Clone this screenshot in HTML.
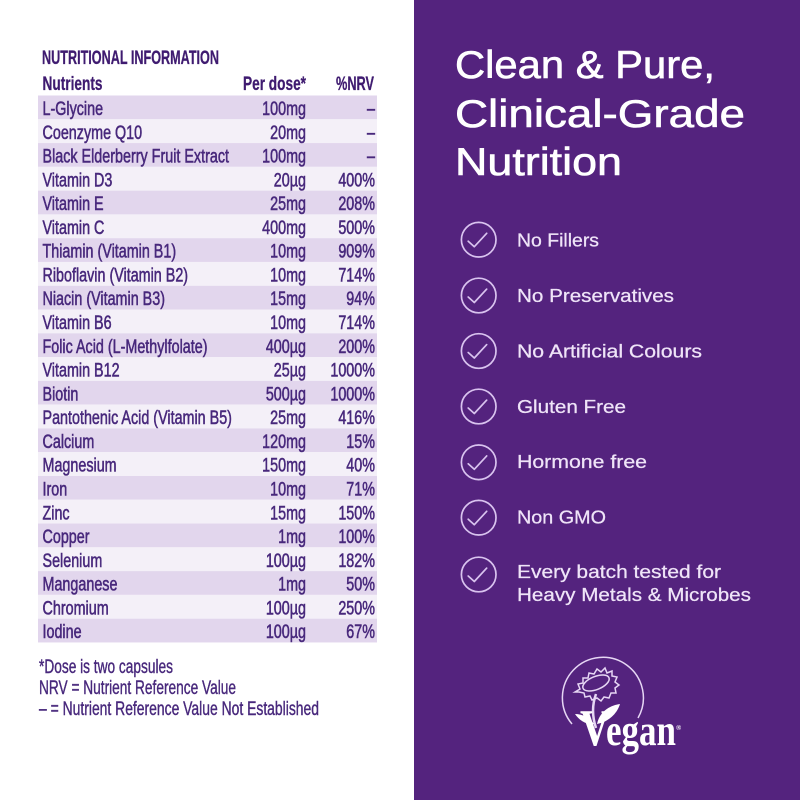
<!DOCTYPE html>
<html><head><meta charset="utf-8"><style>
html,body{margin:0;padding:0;background:#fff;}
svg{display:block;}
</style></head><body>
<svg width="800" height="800" viewBox="0 0 800 800" xmlns="http://www.w3.org/2000/svg">
<rect x="0" y="0" width="800" height="800" fill="#ffffff"/>
<rect x="414" y="0" width="386" height="800" fill="#54237e"/>

<!-- table stripes -->
<g>
<rect x="38" y="95.5" width="339" height="23.78" fill="#e2d6ed"/>
<rect x="38" y="119.28" width="339" height="23.78" fill="#f4f0f8"/>
<rect x="38" y="143.06" width="339" height="23.78" fill="#e2d6ed"/>
<rect x="38" y="166.84" width="339" height="23.78" fill="#f4f0f8"/>
<rect x="38" y="190.62" width="339" height="23.78" fill="#e2d6ed"/>
<rect x="38" y="214.4" width="339" height="23.78" fill="#f4f0f8"/>
<rect x="38" y="238.18" width="339" height="23.78" fill="#e2d6ed"/>
<rect x="38" y="261.96" width="339" height="23.78" fill="#f4f0f8"/>
<rect x="38" y="285.74" width="339" height="23.78" fill="#e2d6ed"/>
<rect x="38" y="309.52" width="339" height="23.78" fill="#f4f0f8"/>
<rect x="38" y="333.3" width="339" height="23.78" fill="#e2d6ed"/>
<rect x="38" y="357.08" width="339" height="23.78" fill="#f4f0f8"/>
<rect x="38" y="380.86" width="339" height="23.78" fill="#e2d6ed"/>
<rect x="38" y="404.64" width="339" height="23.78" fill="#f4f0f8"/>
<rect x="38" y="428.42" width="339" height="23.78" fill="#e2d6ed"/>
<rect x="38" y="452.2" width="339" height="23.78" fill="#f4f0f8"/>
<rect x="38" y="475.98" width="339" height="23.78" fill="#e2d6ed"/>
<rect x="38" y="499.76" width="339" height="23.78" fill="#f4f0f8"/>
<rect x="38" y="523.54" width="339" height="23.78" fill="#e2d6ed"/>
<rect x="38" y="547.32" width="339" height="23.78" fill="#f4f0f8"/>
<rect x="38" y="571.1" width="339" height="23.78" fill="#e2d6ed"/>
<rect x="38" y="594.88" width="339" height="23.78" fill="#f4f0f8"/>
<rect x="38" y="618.66" width="339" height="23.78" fill="#e2d6ed"/>
</g>

<!-- headers -->
<g font-family="Liberation Sans, sans-serif" font-weight="bold" font-size="19.5" fill="#3f1b70" stroke="#3f1b70" stroke-width="0.3">
<text x="42" y="64" textLength="177" lengthAdjust="spacingAndGlyphs">NUTRITIONAL INFORMATION</text>
<text x="42.5" y="90" textLength="60" lengthAdjust="spacingAndGlyphs">Nutrients</text>
<text x="243" y="90" textLength="63" lengthAdjust="spacingAndGlyphs">Per dose*</text>
<text x="336" y="90" textLength="38" lengthAdjust="spacingAndGlyphs">%NRV</text>
</g>

<!-- rows -->
<g font-family="Liberation Sans, sans-serif" font-size="19" fill="#48287c" stroke="#48287c" stroke-width="0.55" transform="scale(0.755,1)">
<g>
<text x="56.3" y="115">L-Glycine</text>
<text x="56.3" y="138.78">Coenzyme Q10</text>
<text x="56.3" y="162.56">Black Elderberry Fruit Extract</text>
<text x="56.3" y="186.34">Vitamin D3</text>
<text x="56.3" y="210.12">Vitamin E</text>
<text x="56.3" y="233.9">Vitamin C</text>
<text x="56.3" y="257.68">Thiamin (Vitamin B1)</text>
<text x="56.3" y="281.46">Riboflavin (Vitamin B2)</text>
<text x="56.3" y="305.24">Niacin (Vitamin B3)</text>
<text x="56.3" y="329.02">Vitamin B6</text>
<text x="56.3" y="352.8">Folic Acid (L-Methylfolate)</text>
<text x="56.3" y="376.58">Vitamin B12</text>
<text x="56.3" y="400.36">Biotin</text>
<text x="56.3" y="424.14">Pantothenic Acid (Vitamin B5)</text>
<text x="56.3" y="447.92">Calcium</text>
<text x="56.3" y="471.7">Magnesium</text>
<text x="56.3" y="495.48">Iron</text>
<text x="56.3" y="519.26">Zinc</text>
<text x="56.3" y="543.04">Copper</text>
<text x="56.3" y="566.82">Selenium</text>
<text x="56.3" y="590.6">Manganese</text>
<text x="56.3" y="614.38">Chromium</text>
<text x="56.3" y="638.16">Iodine</text>
</g>
<g text-anchor="end">
<text x="405.3" y="115">100mg</text>
<text x="405.3" y="138.78">20mg</text>
<text x="405.3" y="162.56">100mg</text>
<text x="405.3" y="186.34">20µg</text>
<text x="405.3" y="210.12">25mg</text>
<text x="405.3" y="233.9">400mg</text>
<text x="405.3" y="257.68">10mg</text>
<text x="405.3" y="281.46">10mg</text>
<text x="405.3" y="305.24">15mg</text>
<text x="405.3" y="329.02">10mg</text>
<text x="405.3" y="352.8">400µg</text>
<text x="405.3" y="376.58">25µg</text>
<text x="405.3" y="400.36">500µg</text>
<text x="405.3" y="424.14">25mg</text>
<text x="405.3" y="447.92">120mg</text>
<text x="405.3" y="471.7">150mg</text>
<text x="405.3" y="495.48">10mg</text>
<text x="405.3" y="519.26">15mg</text>
<text x="405.3" y="543.04">1mg</text>
<text x="405.3" y="566.82">100µg</text>
<text x="405.3" y="590.6">1mg</text>
<text x="405.3" y="614.38">100µg</text>
<text x="405.3" y="638.16">100µg</text>
</g>
<g text-anchor="end">
<text x="496.7" y="115">–</text>
<text x="496.7" y="138.78">–</text>
<text x="496.7" y="162.56">–</text>
<text x="496.7" y="186.34">400%</text>
<text x="496.7" y="210.12">208%</text>
<text x="496.7" y="233.9">500%</text>
<text x="496.7" y="257.68">909%</text>
<text x="496.7" y="281.46">714%</text>
<text x="496.7" y="305.24">94%</text>
<text x="496.7" y="329.02">714%</text>
<text x="496.7" y="352.8">200%</text>
<text x="496.7" y="376.58">1000%</text>
<text x="496.7" y="400.36">1000%</text>
<text x="496.7" y="424.14">416%</text>
<text x="496.7" y="447.92">15%</text>
<text x="496.7" y="471.7">40%</text>
<text x="496.7" y="495.48">71%</text>
<text x="496.7" y="519.26">150%</text>
<text x="496.7" y="543.04">100%</text>
<text x="496.7" y="566.82">182%</text>
<text x="496.7" y="590.6">50%</text>
<text x="496.7" y="614.38">250%</text>
<text x="496.7" y="638.16">67%</text>
</g>
</g>

<!-- footer notes -->
<g font-family="Liberation Sans, sans-serif" font-size="19" fill="#48287c" stroke="#48287c" stroke-width="0.4">
<text x="39" y="673" textLength="134" lengthAdjust="spacingAndGlyphs">*Dose is two capsules</text>
<text x="39" y="694" textLength="197" lengthAdjust="spacingAndGlyphs">NRV = Nutrient Reference Value</text>
<text x="39" y="715" textLength="280" lengthAdjust="spacingAndGlyphs">– = Nutrient Reference Value Not Established</text>
</g>

<!-- right heading -->
<g font-family="Liberation Sans, sans-serif" font-size="39" fill="#ffffff" stroke="#ffffff" stroke-width="0.6">
<text x="455" y="78" textLength="260" lengthAdjust="spacingAndGlyphs">Clean &amp; Pure,</text>
<text x="455" y="127" textLength="290" lengthAdjust="spacingAndGlyphs">Clinical-Grade</text>
<text x="455" y="175" textLength="167" lengthAdjust="spacingAndGlyphs">Nutrition</text>
</g>

<!-- checklist -->
<g fill="none" stroke="#d9c3ef" stroke-width="1.7" stroke-linecap="round" stroke-linejoin="round">
<g transform="translate(478.7,239.7)"><circle r="17.3"/><path d="M-10.5,1.5 L-4.4,7 L8,-6.4"/></g>
<g transform="translate(478.7,295.5)"><circle r="17.3"/><path d="M-10.5,1.5 L-4.4,7 L8,-6.4"/></g>
<g transform="translate(478.7,351)"><circle r="17.3"/><path d="M-10.5,1.5 L-4.4,7 L8,-6.4"/></g>
<g transform="translate(478.7,406.5)"><circle r="17.3"/><path d="M-10.5,1.5 L-4.4,7 L8,-6.4"/></g>
<g transform="translate(478.7,462.3)"><circle r="17.3"/><path d="M-10.5,1.5 L-4.4,7 L8,-6.4"/></g>
<g transform="translate(478.7,517.7)"><circle r="17.3"/><path d="M-10.5,1.5 L-4.4,7 L8,-6.4"/></g>
<g transform="translate(478.7,574.5)"><circle r="17.3"/><path d="M-10.5,1.5 L-4.4,7 L8,-6.4"/></g>
</g>
<g font-family="Liberation Sans, sans-serif" font-size="18" fill="#efe4f8" stroke="#efe4f8" stroke-width="0.25">
<text x="517" y="246.5" textLength="82" lengthAdjust="spacingAndGlyphs">No Fillers</text>
<text x="517" y="302" textLength="157" lengthAdjust="spacingAndGlyphs">No Preservatives</text>
<text x="517" y="357.5" textLength="185" lengthAdjust="spacingAndGlyphs">No Artificial Colours</text>
<text x="517" y="413" textLength="109" lengthAdjust="spacingAndGlyphs">Gluten Free</text>
<text x="517" y="468" textLength="130" lengthAdjust="spacingAndGlyphs">Hormone free</text>
<text x="517" y="523.5" textLength="89" lengthAdjust="spacingAndGlyphs">Non GMO</text>
<text x="517" y="578" textLength="204" lengthAdjust="spacingAndGlyphs">Every batch tested for</text>
<text x="517" y="601" textLength="234" lengthAdjust="spacingAndGlyphs">Heavy Metals &amp; Microbes</text>
</g>

<!-- vegan logo -->
<g fill="none" stroke="#e6d6f4" stroke-width="1.5">
<path d="M572,724 A40.5,40.5 0 1 1 638,718"/>
<ellipse cx="596" cy="683" rx="14" ry="6.5" transform="rotate(-22 596 683)"/>
<path d="M575,692 l5,-3 l-2,-5 l5,-1 l0,-5 l5,0 l1,-5 l5,1 l3,-5 l4,3 l4,-4 l2,5 l5,-2 l0,5 l5,1 l-2,5 l4,3 l-4,3 l1,5 l-5,0 l-2,5 l-5,-1 l-3,4 l-4,-3 l-5,2 l-2,-4 l-5,1 l-1,-4 l-5,-1 z"/>
<path d="M596,694 C592,705 592,716 596,728" stroke-width="2.5"/>
</g>
<path d="M597,724 C600,710 612,705 620,704 C617,714 608,722 597,724 Z" fill="#ffffff"/>
<path d="M594,724 C589,717 582,714 575,714 C579,720 586,725 594,724 Z" fill="#ffffff"/>
<g font-family="Liberation Serif, serif" font-weight="bold" fill="#ffffff">
<text x="580" y="745" font-size="52" textLength="30" lengthAdjust="spacingAndGlyphs">V</text>
<text x="606" y="745" font-size="44" textLength="70" lengthAdjust="spacingAndGlyphs">egan</text>
<text x="676" y="730" font-size="7">®</text>
</g>
</svg>
</body></html>
